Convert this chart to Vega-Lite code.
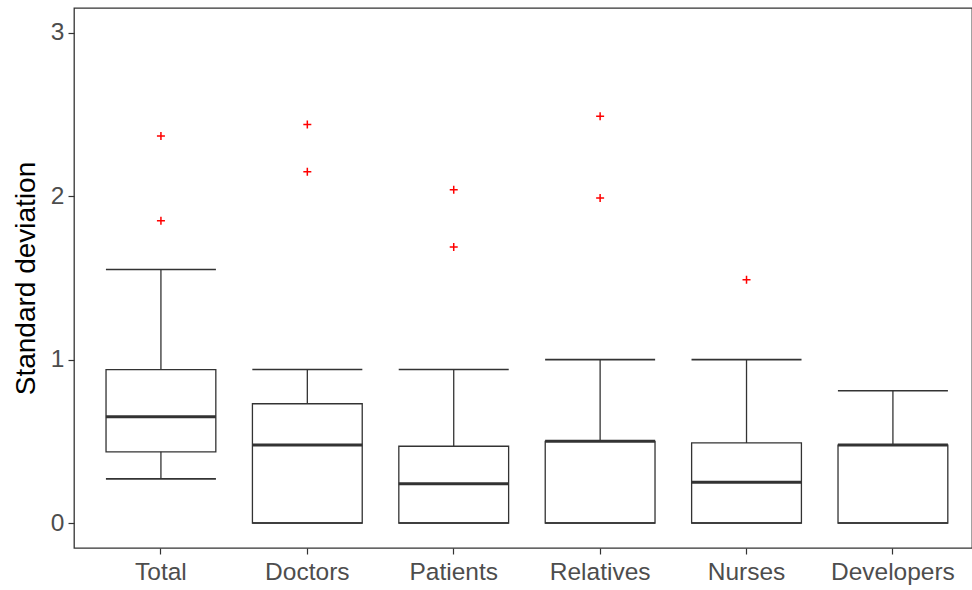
{
  "$schema": "https://vega.github.io/schema/vega-lite/v6.json",
  "autosize": {"type": "none"},
  "width": 898,
  "height": 540,
  "padding": {"left": 74, "top": 8, "right": 0, "bottom": 42},
  "background": "white",
  "config": {
    "view": {"stroke": "#333333", "strokeWidth": 1.3},
    "font": "Liberation Sans",
    "axis": {"grid": false, "domain": false, "tickColor": "#333333", "tickSize": 6, "tickWidth": 1.2, "labelColor": "#4D4D4D", "labelFontSize": 24.5, "labelPadding": 4, "labelFont": "Liberation Sans", "titleFont": "Liberation Sans"}
  },
  "datasets": {
    "boxes": [
      {"group": "Total", "lower": 0.27, "q1": 0.436, "median": 0.65, "q3": 0.939, "upper": 1.552},
      {"group": "Doctors", "lower": 0, "q1": 0, "median": 0.478, "q3": 0.73, "upper": 0.94},
      {"group": "Patients", "lower": 0, "q1": 0, "median": 0.24, "q3": 0.47, "upper": 0.94},
      {"group": "Relatives", "lower": 0, "q1": 0, "median": 0.5, "q3": 0.5, "upper": 1.0},
      {"group": "Nurses", "lower": 0, "q1": 0, "median": 0.25, "q3": 0.49, "upper": 1.0},
      {"group": "Developers", "lower": 0, "q1": 0, "median": 0.477, "q3": 0.477, "upper": 0.81}
    ],
    "outliers": [
      {"group": "Total", "value": 2.37},
      {"group": "Total", "value": 1.85},
      {"group": "Doctors", "value": 2.44},
      {"group": "Doctors", "value": 2.15},
      {"group": "Patients", "value": 2.04},
      {"group": "Patients", "value": 1.69},
      {"group": "Relatives", "value": 2.49},
      {"group": "Relatives", "value": 1.99},
      {"group": "Nurses", "value": 1.49}
    ]
  },
  "encoding": {
    "x": {
      "field": "group", "type": "nominal",
      "sort": ["Total", "Doctors", "Patients", "Relatives", "Nurses", "Developers"],
      "scale": {"paddingInner": 0, "paddingOuter": 0.067, "align": 0.7},
      "axis": {"title": null, "labelAngle": 0, "labelPadding": 6}
    }
  },
  "layer": [
    {
      "data": {"name": "boxes"},
      "mark": {"type": "rule", "color": "#333333", "strokeWidth": 1.3},
      "encoding": {
        "y": {"field": "lower", "type": "quantitative", "scale": {"domain": [-0.153, 3.153], "nice": false, "zero": false}, "axis": {"values": [0, 1, 2, 3], "format": "d", "title": "Standard deviation", "titleFontSize": 28, "titleFontWeight": "normal", "titleColor": "#000000", "titlePadding": 10}},
        "y2": {"field": "upper"}
      }
    },
    {
      "data": {"name": "boxes"},
      "mark": {"type": "bar", "fill": "white", "stroke": "#333333", "strokeWidth": 1.3, "width": {"band": 0.75}},
      "encoding": {
        "y": {"field": "q1", "type": "quantitative"},
        "y2": {"field": "q3"}
      }
    },
    {
      "data": {"name": "boxes"},
      "mark": {"type": "tick", "color": "#333333", "thickness": 1.6, "size": 110, "opacity": 1},
      "encoding": {"y": {"field": "upper", "type": "quantitative"}}
    },
    {
      "data": {"name": "boxes"},
      "mark": {"type": "tick", "color": "#333333", "thickness": 1.6, "size": 110, "opacity": 1},
      "encoding": {"y": {"field": "lower", "type": "quantitative"}}
    },
    {
      "data": {"name": "boxes"},
      "mark": {"type": "tick", "color": "#333333", "thickness": 3, "size": 110, "opacity": 1},
      "encoding": {"y": {"field": "median", "type": "quantitative"}}
    },
    {
      "data": {"name": "outliers"},
      "mark": {"type": "point", "shape": "M-1,0L1,0M0,-1L0,1", "filled": false, "stroke": "red", "strokeWidth": 1.5, "size": 64, "opacity": 1},
      "encoding": {"y": {"field": "value", "type": "quantitative"}}
    }
  ]
}
